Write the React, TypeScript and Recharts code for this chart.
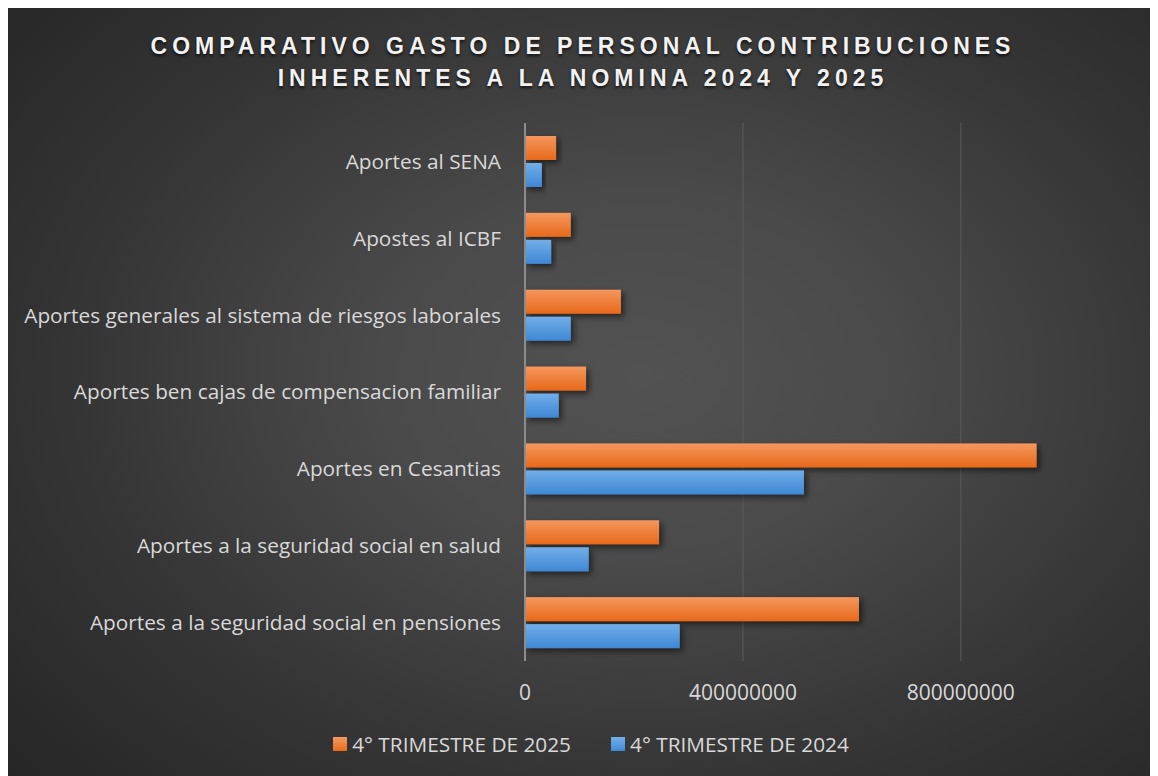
import React from "react";
import { BarChart, Bar, XAxis, YAxis, CartesianGrid } from "recharts";

const categories = [
  "Aportes al SENA",
  "Apostes al ICBF",
  "Aportes generales al sistema de riesgos laborales",
  "Aportes ben cajas de compensacion familiar",
  "Aportes en Cesantias",
  "Aportes a la seguridad social en salud",
  "Aportes a la seguridad social en pensiones",
];
const values2025 = [57000000, 84000000, 176000000, 112000000, 939000000, 246000000, 613000000];
const values2024 = [31000000, 48000000, 84000000, 62000000, 512000000, 117000000, 284000000];
const xTicks = [0, 400000000, 800000000];
const seriesNames = ["4° TRIMESTRE DE 2025", "4° TRIMESTRE DE 2024"];
const titleLines = [
  "COMPARATIVO GASTO DE PERSONAL CONTRIBUCIONES",
  "INHERENTES A LA NOMINA 2024 Y 2025",
];

const data = categories.map((c, i) => ({ name: c, v2025: values2025[i], v2024: values2024[i] }));

const series = [
  { key: "v2025", name: seriesNames[0], grad: "gOrange", swatch: "linear-gradient(#f39a62,#e96b1c)" },
  { key: "v2024", name: seriesNames[1], grad: "gBlue", swatch: "linear-gradient(#74b0ea,#4189d6)" },
];

const FONT = "'Open Sans', Lato, sans-serif";
const W = 1150;
const H = 768;

const makeShape = (grad: string) => (props: any) => {
  const { x, y, width, height } = props;
  if (!width || width <= 0) return <g />;
  return <rect x={x} y={y} width={width} height={height} fill={`url(#${grad})`} filter="url(#bshadow)" />;
};

export default function App() {
  return (
    <div
      style={{
        position: "relative",
        width: W,
        height: H,
        overflow: "hidden",
        background:
          "radial-gradient(ellipse 75% 80% at 55% 48%, #525252 0%, #4a4a4a 30%, #353535 65%, #252525 100%)",
        fontFamily: FONT,
      }}
    >
      <div
        style={{
          position: "absolute",
          top: 22,
          left: 0,
          width: W,
          textAlign: "center",
          fontFamily: "'Liberation Sans', Arial, sans-serif",
          fontWeight: 700,
          fontSize: 23,
          letterSpacing: 5,
          lineHeight: "32px",
          color: "#f2f2f2",
          textShadow: "0 2px 3px rgba(0,0,0,0.7)",
        }}
      >
        {titleLines.map((t) => (
          <div key={t}>{t}</div>
        ))}
      </div>
      <div style={{ position: "absolute", left: 0, top: 0 }}>
        <BarChart
          width={W}
          height={H}
          data={data}
          layout="vertical"
          margin={{ top: 115, right: 1, bottom: 0, left: 0 }}
          barSize={24}
          barGap={3}
        >
          <defs>
            <linearGradient id="gOrange" x1="0" y1="0" x2="0" y2="1">
              <stop offset="0%" stopColor="#f4975e" />
              <stop offset="100%" stopColor="#e8691a" />
            </linearGradient>
            <linearGradient id="gBlue" x1="0" y1="0" x2="0" y2="1">
              <stop offset="0%" stopColor="#72aee9" />
              <stop offset="100%" stopColor="#3f87d4" />
            </linearGradient>
            <filter id="bshadow" x="-10%" y="-30%" width="130%" height="180%">
              <feDropShadow dx="3" dy="3" stdDeviation="3" floodColor="#000" floodOpacity="0.55" />
            </filter>
          </defs>
          <CartesianGrid horizontal={false} stroke="#5c5c5c" strokeWidth={1} />
          <XAxis
            type="number"
            domain={[0, 1160000000]}
            ticks={xTicks}
            height={115}
            axisLine={false}
            tickLine={false}
            tickSize={0}
            tickMargin={24}
            interval={0}
            tick={{ fill: "#d9d9d9", fontSize: 21, fontFamily: FONT }}
            tickFormatter={(v: number) => String(v)}
          />
          <YAxis
            type="category"
            dataKey="name"
            width={517}
            axisLine={{ stroke: "#8c8c8c", strokeWidth: 2 }}
            tickLine={false}
            tickSize={0}
            tickMargin={24}
            interval={0}
            tick={{ fill: "#d9d9d9", fontSize: 20.8, fontFamily: FONT }}
          />
          {series.map((s) => (
            <Bar
              key={s.key}
              dataKey={s.key}
              name={s.name}
              isAnimationActive={false}
              shape={makeShape(s.grad)}
            />
          ))}
        </BarChart>
      </div>
      <div
        style={{
          position: "absolute",
          top: 722,
          left: 8,
          width: W,
          display: "flex",
          justifyContent: "center",
          alignItems: "center",
          gap: 40,
          color: "#d9d9d9",
          fontSize: 20.8,
        }}
      >
        {series.map((s) => (
          <div key={s.key} style={{ display: "flex", alignItems: "center", gap: 5 }}>
            <span style={{ display: "inline-block", width: 14, height: 14, background: s.swatch }} />
            <span>{s.name}</span>
          </div>
        ))}
      </div>
    </div>
  );
}
